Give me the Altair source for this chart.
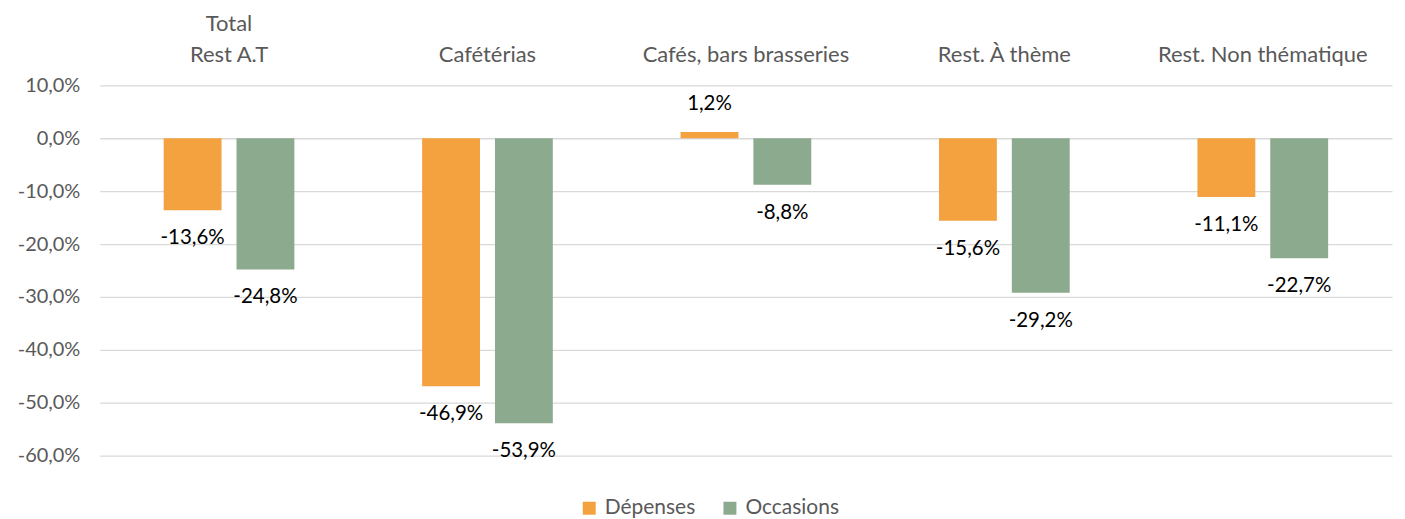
import altair as alt
import pandas as pd

categories = ["Total Rest A.T", "Cafétérias", "Cafés, bars brasseries", "Rest. À thème", "Rest. Non thématique"]
category_lines = [["Total", "Rest A.T"], ["Cafétérias"], ["Cafés, bars brasseries"], ["Rest. À thème"], ["Rest. Non thématique"]]
series = ["Dépenses", "Occasions"]
depenses = [-13.6, -46.9, 1.2, -15.6, -11.1]
occasions = [-24.8, -53.9, -8.8, -29.2, -22.7]
colors = ["#F4A240", "#8CAA8E"]

rows = []
for c, d, o in zip(categories, depenses, occasions):
    rows.append({"cat": c, "serie": "Dépenses", "val": d})
    rows.append({"cat": c, "serie": "Occasions", "val": o})
df = pd.DataFrame(rows)
df["label"] = df["val"].map(lambda v: f"{v:.1f}%".replace(".", ","))

lab_rows = []
for c, lines in zip(categories, category_lines):
    n = len(lines)
    for i, t in enumerate(lines):
        lab_rows.append({"cat": c, "txt": t, "lvl": n - 1 - i})
labdf = pd.DataFrame(lab_rows)

FONT = "Lato"
yscale = alt.Scale(domain=[-60, 10], nice=False)

x = alt.X("cat:N", sort=categories, title=None,
          scale=alt.Scale(paddingInner=0, paddingOuter=0),
          axis=None)
xoff = alt.XOffset("serie:N", sort=series,
                   scale=alt.Scale(paddingInner=0.2055, paddingOuter=0.877))
y = alt.Y("val:Q", title=None, scale=yscale,
          axis=alt.Axis(values=list(range(-60, 11, 10)), domain=False, ticks=False,
                        labelFontSize=20, labelColor="#595959", labelFont=FONT,
                        labelPadding=20, gridColor="#D9D9D9", gridWidth=1.3,
                        labelExpr="replace(replace(format(datum.value, '.1f'), '.', ','), '\u2212', '-') + '%'"))

base = alt.Chart(df).encode(x=x, xOffset=xoff)

bars = base.mark_bar().encode(
    y=y,
    y2=alt.datum(0),
    color=alt.Color("serie:N", sort=series,
                    scale=alt.Scale(domain=series, range=colors),
                    legend=alt.Legend(orient="none", legendX=480, legendY=413,
                                      direction="horizontal", title=None, symbolType="square",
                                      symbolSize=169, labelFontSize=21, labelFont=FONT,
                                      labelColor="#595959", columnPadding=24,
                                      symbolStrokeWidth=0, labelOffset=5)),
)

text_neg = base.transform_filter("datum.val < 0").mark_text(
    fontSize=20.5, font=FONT, color="#000000", dy=28, baseline="middle"
).encode(y=alt.Y("val:Q", scale=yscale, axis=None), text="label:N")

text_pos = base.transform_filter("datum.val >= 0").mark_text(
    fontSize=20.5, font=FONT, color="#000000", dy=-28, baseline="middle"
).encode(y=alt.Y("val:Q", scale=yscale, axis=None), text="label:N")

cat_labels = alt.Chart(labdf).mark_text(
    fontSize=22, font=FONT, color="#595959", baseline="alphabetic"
).encode(
    x=alt.X("cat:N", sort=categories, scale=alt.Scale(paddingInner=0, paddingOuter=0), axis=None),
    y=alt.Y("lvl:Q", scale=alt.Scale(domain=[0, 1], range=[-23, -55]), axis=None),
    text="txt:N",
)

chart = alt.layer(bars, text_neg, text_pos, cat_labels).resolve_scale(y="independent").properties(
    width=1295, height=371, padding={"left": 9, "top": 4, "right": 5, "bottom": 0}
).configure(background="white").configure_view(stroke=None)

chart.save("out.html", embed_options={"renderer": "svg", "actions": False})
